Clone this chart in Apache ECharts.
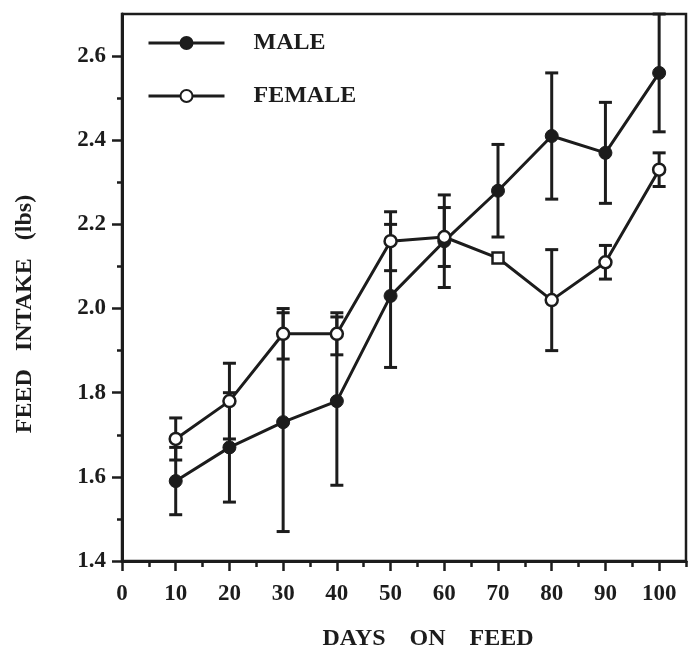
<!DOCTYPE html>
<html>
<head>
<meta charset="utf-8">
<script src="https://cdn.jsdelivr.net/npm/echarts@6/dist/echarts.min.js"></script>
<style>
html,body{margin:0;padding:0;background:#fff;}
#chart{width:688px;height:660px;}
</style>
</head>
<body>
<div id="chart"></div>
<script>
var days = [10, 20, 30, 40, 50, 60, 70, 80, 90, 100];
var maleIntake = [1.59, 1.67, 1.73, 1.78, 2.03, 2.16, 2.28, 2.41, 2.37, 2.56];
var maleErr = [0.08, 0.13, 0.26, 0.20, 0.17, 0.11, 0.11, 0.15, 0.12, 0.14];
var femaleIntake = [1.69, 1.78, 1.94, 1.94, 2.16, 2.17, 2.12, 2.02, 2.11, 2.33];
var femaleErr = [0.05, 0.09, 0.06, 0.05, 0.07, 0.07, 0, 0.12, 0.04, 0.04];
var seriesNames = ['MALE', 'FEMALE'];
var xMajorTicks = [0, 10, 20, 30, 40, 50, 60, 70, 80, 90, 100];
var xMinorTicks = [5, 15, 25, 35, 45, 55, 65, 75, 85, 95, 105];
var yMajorTicks = [1.4, 1.6, 1.8, 2.0, 2.2, 2.4, 2.6];
var yMinorTicks = [1.5, 1.7, 1.9, 2.1, 2.3, 2.5];
var xTitle = 'DAYS    ON    FEED';
var yTitle = 'FEED   INTAKE   (lbs)';

var INK = '#1c1c1c';
var FONT = '"Liberation Serif", "DejaVu Serif", serif';

function pts(vals) { return days.map(function (d, i) { return [d, vals[i]]; }); }
function errPts(vals, errs) { return days.map(function (d, i) { return [d, vals[i], errs[i]]; }); }

function renderErr(params, api) {
  var e = api.value(2);
  if (!e) return null;
  var x = api.value(0), y = api.value(1);
  var top = api.coord([x, y + e]);
  var bot = api.coord([x, y - e]);
  var hw = 6.5;
  var st = { stroke: INK, lineWidth: 3 };
  return {
    type: 'group',
    children: [
      { type: 'line', shape: { x1: top[0], y1: top[1], x2: bot[0], y2: bot[1] }, style: st },
      { type: 'line', shape: { x1: top[0] - hw, y1: top[1], x2: top[0] + hw, y2: top[1] }, style: st },
      { type: 'line', shape: { x1: bot[0] - hw, y1: bot[1], x2: bot[0] + hw, y2: bot[1] }, style: st }
    ]
  };
}

var femaleData = pts(femaleIntake).map(function (p, i) {
  if (femaleErr[i] === 0) {
    return { value: p, symbol: 'rect', symbolSize: 11, itemStyle: { color: '#fff', borderColor: INK, borderWidth: 2.5 } };
  }
  return p;
});

var chart = echarts.init(document.getElementById('chart'), null, { renderer: 'canvas' });
chart.setOption({
  animation: false,
  backgroundColor: '#fff',
  grid: { left: 122, right: 2, top: 14, bottom: 99, show: true, borderColor: INK, borderWidth: 2.5, backgroundColor: 'transparent' },
  legend: {
    data: seriesNames,
    orient: 'vertical',
    left: 142,
    top: 26,
    itemWidth: 76,
    itemHeight: 15,
    itemGap: 29,
    lineStyle: { width: 3, color: INK },
    textStyle: { fontFamily: FONT, fontWeight: 'bold', fontSize: 24, color: INK, padding: [0, 0, 0, 24] }
  },
  xAxis: [{
    type: 'value', min: 0, max: 105, interval: 10,
    axisLine: { show: true, lineStyle: { color: INK, width: 3 } },
    axisTick: { show: true, inside: false, length: 10, customValues: xMajorTicks, lineStyle: { color: INK, width: 2.5 } },
    axisLabel: {
      margin: 22, fontFamily: FONT, fontWeight: 'bold', fontSize: 23, color: INK,
      customValues: xMajorTicks,
      formatter: function (v) { return String(v); }
    },
    splitLine: { show: false }
  }, {
    type: 'value', min: 0, max: 105, position: 'bottom',
    axisLine: { show: false },
    axisTick: { show: true, inside: false, length: 6, customValues: xMinorTicks, lineStyle: { color: INK, width: 2.5 } },
    axisLabel: { show: false },
    splitLine: { show: false }
  }],
  yAxis: [{
    type: 'value', min: 1.4, max: 2.7, interval: 0.2,
    axisLine: { show: true, lineStyle: { color: INK, width: 3 } },
    axisTick: { show: true, inside: false, length: 10, customValues: yMajorTicks, lineStyle: { color: INK, width: 2.5 } },
    axisLabel: {
      margin: 16, fontFamily: FONT, fontWeight: 'bold', fontSize: 23, color: INK,
      customValues: yMajorTicks,
      formatter: function (v) { return v.toFixed(1); }
    },
    splitLine: { show: false }
  }, {
    type: 'value', min: 1.4, max: 2.7, position: 'left',
    axisLine: { show: false },
    axisTick: { show: true, inside: false, length: 5, customValues: yMinorTicks, lineStyle: { color: INK, width: 2.5 } },
    axisLabel: { show: false },
    splitLine: { show: false }
  }],
  graphic: [
    { type: 'text', x: 428, y: 639, style: { text: xTitle, font: 'bold 24px ' + FONT, fill: INK, align: 'center', verticalAlign: 'middle' } },
    { type: 'text', x: 25, y: 314, rotation: Math.PI / 2, style: { text: yTitle, font: 'bold 24px ' + FONT, fill: INK, align: 'center', verticalAlign: 'middle' } }
  ],
  series: [
    {
      name: 'maleErr', type: 'custom', xAxisIndex: 0, yAxisIndex: 0, z: 2,
      renderItem: renderErr, data: errPts(maleIntake, maleErr), silent: true
    },
    {
      name: 'femaleErr', type: 'custom', xAxisIndex: 0, yAxisIndex: 0, z: 2,
      renderItem: renderErr, data: errPts(femaleIntake, femaleErr), silent: true
    },
    {
      name: seriesNames[0], type: 'line', z: 3, xAxisIndex: 0, yAxisIndex: 0,
      data: pts(maleIntake),
      symbol: 'circle', symbolSize: 13, showAllSymbol: true,
      lineStyle: { color: INK, width: 3 },
      itemStyle: { color: INK, borderColor: INK, borderWidth: 1 }
    },
    {
      name: seriesNames[1], type: 'line', z: 4, xAxisIndex: 0, yAxisIndex: 0,
      data: femaleData,
      symbol: 'circle', symbolSize: 12, showAllSymbol: true,
      lineStyle: { color: INK, width: 3 },
      itemStyle: { color: '#fff', borderColor: INK, borderWidth: 2.5 }
    }
  ]
});
</script>
</body>
</html>
